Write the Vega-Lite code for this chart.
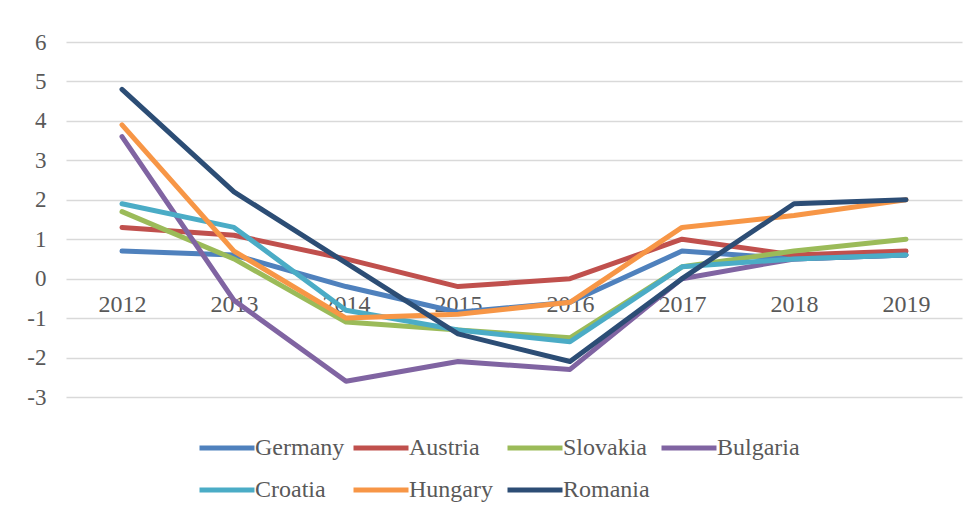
{
  "$schema": "https://vega.github.io/schema/vega-lite/v6.json",
  "width": 896,
  "height": 355,
  "padding": {"left": 66, "top": 42, "right": 17, "bottom": 119},
  "autosize": {"type": "none"},
  "background": "white",
  "data": {
    "values": [
      {"country": "Germany", "year": "2012", "value": 0.7},
      {"country": "Germany", "year": "2013", "value": 0.6},
      {"country": "Germany", "year": "2014", "value": -0.2},
      {"country": "Germany", "year": "2015", "value": -0.85},
      {"country": "Germany", "year": "2016", "value": -0.6},
      {"country": "Germany", "year": "2017", "value": 0.7},
      {"country": "Germany", "year": "2018", "value": 0.5},
      {"country": "Germany", "year": "2019", "value": 0.6},
      {"country": "Austria", "year": "2012", "value": 1.3},
      {"country": "Austria", "year": "2013", "value": 1.1},
      {"country": "Austria", "year": "2014", "value": 0.5},
      {"country": "Austria", "year": "2015", "value": -0.2},
      {"country": "Austria", "year": "2016", "value": 0.0},
      {"country": "Austria", "year": "2017", "value": 1.0},
      {"country": "Austria", "year": "2018", "value": 0.6},
      {"country": "Austria", "year": "2019", "value": 0.7},
      {"country": "Slovakia", "year": "2012", "value": 1.7},
      {"country": "Slovakia", "year": "2013", "value": 0.5},
      {"country": "Slovakia", "year": "2014", "value": -1.1},
      {"country": "Slovakia", "year": "2015", "value": -1.3},
      {"country": "Slovakia", "year": "2016", "value": -1.5},
      {"country": "Slovakia", "year": "2017", "value": 0.3},
      {"country": "Slovakia", "year": "2018", "value": 0.7},
      {"country": "Slovakia", "year": "2019", "value": 1.0},
      {"country": "Bulgaria", "year": "2012", "value": 3.6},
      {"country": "Bulgaria", "year": "2013", "value": -0.55},
      {"country": "Bulgaria", "year": "2014", "value": -2.6},
      {"country": "Bulgaria", "year": "2015", "value": -2.1},
      {"country": "Bulgaria", "year": "2016", "value": -2.3},
      {"country": "Bulgaria", "year": "2017", "value": 0.0},
      {"country": "Bulgaria", "year": "2018", "value": 0.5},
      {"country": "Bulgaria", "year": "2019", "value": 0.6},
      {"country": "Croatia", "year": "2012", "value": 1.9},
      {"country": "Croatia", "year": "2013", "value": 1.3},
      {"country": "Croatia", "year": "2014", "value": -0.8},
      {"country": "Croatia", "year": "2015", "value": -1.3},
      {"country": "Croatia", "year": "2016", "value": -1.6},
      {"country": "Croatia", "year": "2017", "value": 0.3},
      {"country": "Croatia", "year": "2018", "value": 0.5},
      {"country": "Croatia", "year": "2019", "value": 0.6},
      {"country": "Hungary", "year": "2012", "value": 3.9},
      {"country": "Hungary", "year": "2013", "value": 0.7},
      {"country": "Hungary", "year": "2014", "value": -1.0},
      {"country": "Hungary", "year": "2015", "value": -0.9},
      {"country": "Hungary", "year": "2016", "value": -0.6},
      {"country": "Hungary", "year": "2017", "value": 1.3},
      {"country": "Hungary", "year": "2018", "value": 1.6},
      {"country": "Hungary", "year": "2019", "value": 2.0},
      {"country": "Romania", "year": "2012", "value": 4.8},
      {"country": "Romania", "year": "2013", "value": 2.2},
      {"country": "Romania", "year": "2014", "value": 0.4},
      {"country": "Romania", "year": "2015", "value": -1.4},
      {"country": "Romania", "year": "2016", "value": -2.1},
      {"country": "Romania", "year": "2017", "value": 0.0},
      {"country": "Romania", "year": "2018", "value": 1.9},
      {"country": "Romania", "year": "2019", "value": 2.0}
    ]
  },
  "mark": {"type": "line", "strokeWidth": 5, "strokeCap": "round", "strokeJoin": "round"},
  "encoding": {
    "x": {
      "field": "year",
      "type": "ordinal",
      "scale": {"type": "point", "padding": 0.5},
      "axis": {
        "title": null,
        "labelAngle": 0,
        "domain": false,
        "ticks": false,
        "grid": false,
        "offset": -119,
        "labelPadding": 14,
        "labelFont": "Liberation Serif",
        "labelFontSize": 24,
        "labelColor": "#595959"
      }
    },
    "y": {
      "field": "value",
      "type": "quantitative",
      "scale": {"domain": [-3, 6], "nice": false, "zero": false},
      "axis": {
        "title": null,
        "values": [-3, -2, -1, 0, 1, 2, 3, 4, 5, 6],
        "labelExpr": "datum.value + ''",
        "domain": false,
        "ticks": false,
        "grid": true,
        "gridColor": "#D9D9D9",
        "gridWidth": 1.5,
        "labelPadding": 20,
        "labelFont": "Liberation Serif",
        "labelFontSize": 23,
        "labelColor": "#595959"
      }
    },
    "color": {
      "field": "country",
      "type": "nominal",
      "scale": {
        "domain": ["Germany", "Austria", "Slovakia", "Bulgaria", "Croatia", "Hungary", "Romania"],
        "range": ["#4F81BD", "#C0504D", "#9BBB59", "#8064A2", "#4BACC6", "#F79646", "#2C4D75"]
      },
      "legend": {
        "title": null,
        "orient": "none",
        "legendX": 131,
        "legendY": 376,
        "direction": "horizontal",
        "columns": 4,
        "gridAlign": "all",
        "columnPadding": -2,
        "rowPadding": -12,
        "symbolType": "stroke",
        "symbolSize": 3025,
        "symbolStrokeWidth": 5,
        "labelOffset": -2,
        "labelFont": "Liberation Serif",
        "labelFontSize": 24,
        "labelColor": "#595959",
        "labelLimit": 200
      }
    }
  },
  "config": {"view": {"stroke": null}}
}
